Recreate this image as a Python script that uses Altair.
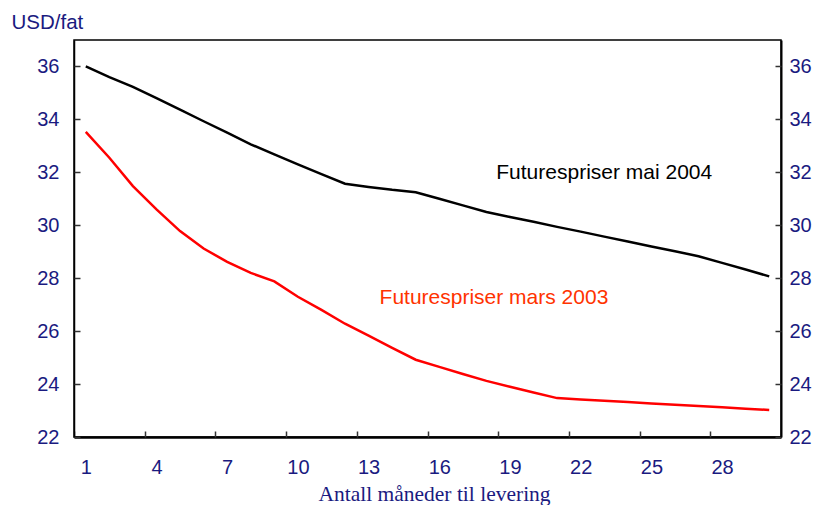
import altair as alt
import pandas as pd

# ---- data ----
months = list(range(1, 31))
mai_2004 = [36.0, 35.6, 35.23, 34.8, 34.37, 33.93, 33.5, 33.06, 32.68, 32.3,
            31.93, 31.57, 31.45, 31.34, 31.25, 31.0, 30.75, 30.5, 30.31, 30.13,
            29.94, 29.76, 29.57, 29.39, 29.2, 29.02, 28.83, 28.58, 28.33, 28.07]
mars_2003 = [33.53, 32.55, 31.48, 30.6, 29.78, 29.12, 28.62, 28.2, 27.88, 27.3,
             26.8, 26.28, 25.83, 25.37, 24.92, 24.65, 24.38, 24.12, 23.9, 23.68,
             23.47, 23.42, 23.37, 23.32, 23.27, 23.22, 23.17, 23.12, 23.07, 23.02]
series_names = ["Futurespriser mai 2004", "Futurespriser mars 2003"]
series_colors = ["#000000", "#ff0000"]
label_colors = ["#000000", "#ff3300"]
label_x = [23.0, 18.32]
label_y = [31.76, 27.04]
y_tick_values = [22, 24, 26, 28, 30, 32, 34, 36]
x_label_values = [1, 4, 7, 10, 13, 16, 19, 22, 25, 28]
x_tick_values = [v - 0.5 for v in x_label_values]

df = pd.DataFrame({
    "month": months + months,
    "price": mai_2004 + mars_2003,
    "series": [series_names[0]] * len(months) + [series_names[1]] * len(months),
})
labels_df = pd.DataFrame({
    "text": series_names, "month": label_x, "price": label_y, "col": label_colors
})

W, H = 707, 397
NAVY = "#1a1a80"
FONT = "Liberation Sans"
TICK_FS = 20

xscale = alt.Scale(domain=[0.5, 30.5], nice=False, zero=False)
yscale = alt.Scale(domain=[22, 37], nice=False, zero=False)

base = alt.Chart(df)

lines = base.mark_line(strokeWidth=2.5).encode(
    x=alt.X("month:Q", scale=xscale, axis=alt.Axis(
        orient="bottom", values=x_label_values, ticks=False, tickSize=0,
        labelPadding=20, grid=False, domainWidth=2.5, domainColor="black",
        labelColor=NAVY, labelFontSize=TICK_FS, labelFont=FONT,
        title="Antall måneder til levering", titleFont="Liberation Serif",
        titleFontSize=21.5, titleFontWeight="normal", titleColor=NAVY,
        titleX=360, titleY=63, titleBaseline="alphabetic")),
    y=alt.Y("price:Q", scale=yscale, axis=alt.Axis(
        orient="left", values=y_tick_values, ticks=False, tickSize=0,
        labelPadding=15, grid=False, domainWidth=1.5, domainColor="black",
        labelColor=NAVY, labelFontSize=TICK_FS, labelFont=FONT,
        title="USD/fat", titleAngle=0, titleX=-63, titleY=-12,
        titleAlign="left", titleBaseline="alphabetic", titleFont=FONT,
        titleFontSize=20.5, titleFontWeight="normal", titleColor=NAVY)),
    color=alt.Color("series:N", scale=alt.Scale(domain=series_names, range=series_colors),
                    legend=None),
)

x_ticks = base.mark_line(opacity=0).encode(
    x=alt.X("month:Q", axis=alt.Axis(
        orient="bottom", values=x_tick_values, labels=False, domain=False,
        ticks=True, tickSize=6, tickWidth=1.5, tickColor="#333333",
        offset=-6, grid=False, title=None)),
    y=alt.Y("price:Q", axis=None),
)

y_left_ticks = base.mark_line(opacity=0).encode(
    x=alt.X("month:Q", axis=None),
    y=alt.Y("price:Q", axis=alt.Axis(
        orient="left", values=y_tick_values, labels=False, domain=False,
        ticks=True, tickSize=6, tickWidth=1.5, tickColor="#333333",
        offset=-6, grid=False, title=None)),
)

y_right = base.mark_line(opacity=0).encode(
    x=alt.X("month:Q", axis=None),
    y=alt.Y("price:Q", axis=alt.Axis(
        orient="right", values=y_tick_values, ticks=False, tickSize=0,
        labelPadding=8, grid=False, domainWidth=2, domainColor="black",
        labelColor=NAVY, labelFontSize=TICK_FS, labelFont=FONT, title=None)),
)

y_right_ticks = base.mark_line(opacity=0).encode(
    x=alt.X("month:Q", axis=None),
    y=alt.Y("price:Q", axis=alt.Axis(
        orient="right", values=y_tick_values, labels=False, domain=False,
        ticks=True, tickSize=6, tickWidth=1.5, tickColor="#333333",
        offset=-6, grid=False, title=None)),
)

texts = alt.Chart(labels_df).mark_text(
    font=FONT, fontSize=21, align="center", baseline="alphabetic"
).encode(
    x=alt.X("month:Q", axis=None),
    y=alt.Y("price:Q", axis=None),
    text="text:N",
    color=alt.Color("col:N", scale=None),
)

chart = alt.layer(lines, x_ticks, y_left_ticks, y_right, y_right_ticks, texts).resolve_axis(
    x="independent", y="independent"
).properties(
    width=W, height=H,
    autosize=alt.AutoSizeParams(type="none"),
    padding={"left": 66, "top": 32, "right": 32, "bottom": 68},
    background="white",
).configure_view(stroke="black", strokeWidth=1.5)

chart.save("out.html", embed_options={"renderer": "svg", "actions": False})
